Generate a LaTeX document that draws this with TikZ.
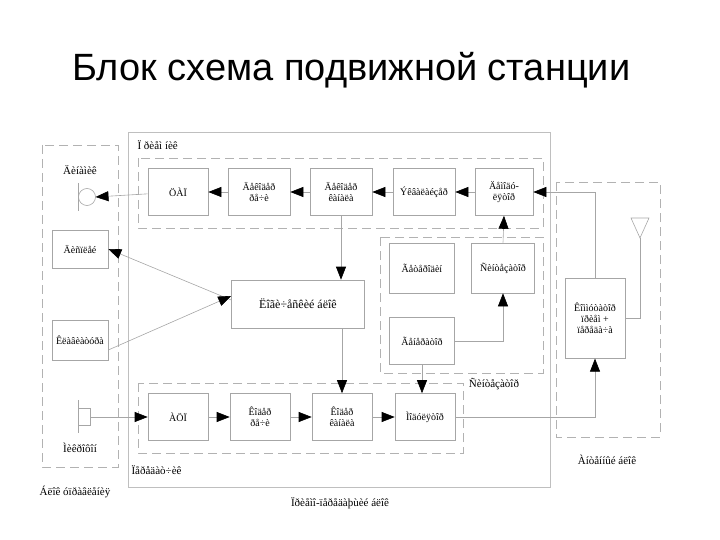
\documentclass[tikz,border=0pt]{standalone}
\usepackage{fontspec}
\setmainfont{Liberation Serif}
\newfontfamily\titlefont{Liberation Sans}
\usetikzlibrary{arrows.meta}
\begin{document}
\begin{tikzpicture}[x=1pt,y=-1pt,
  blk/.style={draw=gray!70,line width=0.6pt,minimum width=60pt,minimum height=47pt,inner sep=1pt,align=center,font=\fontsize{10}{11}\selectfont},
  grp/.style={draw=gray!60,dash pattern=on 9pt off 5pt,line width=0.7pt},
  lbl/.style={font=\fontsize{11}{13}\selectfont},
  wire/.style={color=gray!70,line width=0.6pt},
  arr/.style={color=gray!70,line width=0.6pt,arrows={-Triangle[length=13pt,width=10pt,color=black]}}]
\useasboundingbox (0,0) rectangle (720,540);
\node[font=\titlefont\fontsize{38}{42}\selectfont,anchor=west,inner sep=0] (title) at (72,70) {Блок схема подвижной станции};
% groups
\draw[draw=gray!50,line width=1pt] (128,133) rectangle (550,487);
\draw[grp] (42,145) rectangle (118,467);
\draw[grp] (556,182) rectangle (660,437);
\draw[grp] (138,158) rectangle (543,228);
\draw[grp] (380,237) rectangle (543,373);
\draw[grp] (138,383) rectangle (463,453);
\node[lbl,anchor=west] (lrx) at (134,145) {Ï ðèåì íèê};
\node[lbl] (lsyn) at (494,384) {Ñèíòåçàòîð};
\node[lbl,anchor=west] (ltx) at (128,470) {Ïåðåäàò÷èê};
\node[lbl] (lant) at (607,460) {Àíòåííûé áëîê};
\node[lbl] (lctl) at (75,492) {Áëîê óïðàâëåíèÿ};
\node[lbl] (ltrx) at (340,503) {Ïðèåìî-ïåðåäàþùèé áëîê};
\node[lbl] (ldyn) at (80,170) {Äèíàìèê};
\node[lbl] (lmic) at (80,448) {Ìèêðîôîí};
% blocks
\node[blk] (dac) at (178,192) {ÖÀÏ};
\node[blk,minimum width=62pt] (dsp) at (259,192) {Äåêîäåð\\ðå÷è};
\node[blk,minimum width=62pt] (dch) at (341,192) {Äåêîäåð\\êàíàëà};
\node[blk,minimum width=62pt] (eq) at (424,192) {Ýêâàëàéçåð};
\node[blk,minimum width=58pt] (dem) at (504,192) {Äåìîäó-\\ëÿòîð};
\node[blk,minimum width=56pt,minimum height=38pt] (disp) at (80,249) {Äèñïëåé};
\node[blk,minimum width=56pt,minimum height=40pt] (kbd) at (80,340) {Êëàâèàòóðà};
\node[blk,minimum width=133pt,minimum height=48pt,font=\fontsize{12}{13}\selectfont] (log) at (298,304) {Ëîãè÷åñêèé áëîê};
\node[blk,minimum width=65pt,minimum height=50pt] (het) at (422,268) {Ãåòåðîäèí};
\node[blk,minimum width=63pt,minimum height=50pt] (syn) at (503,268) {Ñèíòåçàòîð};
\node[blk,minimum width=65pt,minimum height=47pt] (gen) at (422,341) {Ãåíåðàòîð};
\node[blk] (adc) at (178,417) {ÀÖÏ};
\node[blk] (csp) at (260,417) {Êîäåð\\ðå÷è};
\node[blk] (cch) at (342,417) {Êîäåð\\êàíàëà};
\node[blk] (mod) at (425,417) {Ìîäóëÿòîð};
\node[blk,minimum width=60pt,minimum height=80pt,anchor=north] (sw) at (595,278) {Êîììóòàòîð\\ïðèåì +\\ïåðåäà÷à};
% peripherals
\draw[wire] (78,183) -- (78,211);
\draw[wire] (87,197) circle (8.5);
\coordinate (spk) at (95.5,197);
\draw[wire] (78,400) -- (78,433);
\draw[wire] (78,408) rectangle (90,425);
\coordinate (mic) at (90,417);
\draw[wire] (631,218) -- (649,218) -- (640,238) -- cycle;
\coordinate (antb) at (640,238);
% connectors
\draw[arr] (dac) -- (spk);
\draw[arr] (dsp) -- (dac);
\draw[arr] (dch) -- (dsp);
\draw[arr] (eq) -- (dch);
\draw[arr] (dem) -- (eq);
\draw[arr] (sw.north) |- (dem.east);
\draw[wire] (antb) |- (sw.east);
\draw[arr] (dch.south) -- (dch.south |- log.north);
\draw[arr] (log.west) ++(0,-4) -- (disp.east);
\draw[arr] (kbd.east) ++(0,10) -- ([yshift=8pt]log.west);
\draw[arr] (log.south -| cch.north) -- (cch.north);
\draw[arr] (syn.north) -- (dem.south);
\draw[arr] (gen.east) -| (syn.south);
\draw[arr] (gen.south) -- (gen.south |- mod.north);
\draw[arr] (mic) -- (adc.west);
\draw[arr] (adc) -- (csp);
\draw[arr] (csp) -- (cch);
\draw[arr] (cch) -- (mod);
\draw[arr] (mod.east) -| (sw.south);
\end{tikzpicture}
\end{document}
